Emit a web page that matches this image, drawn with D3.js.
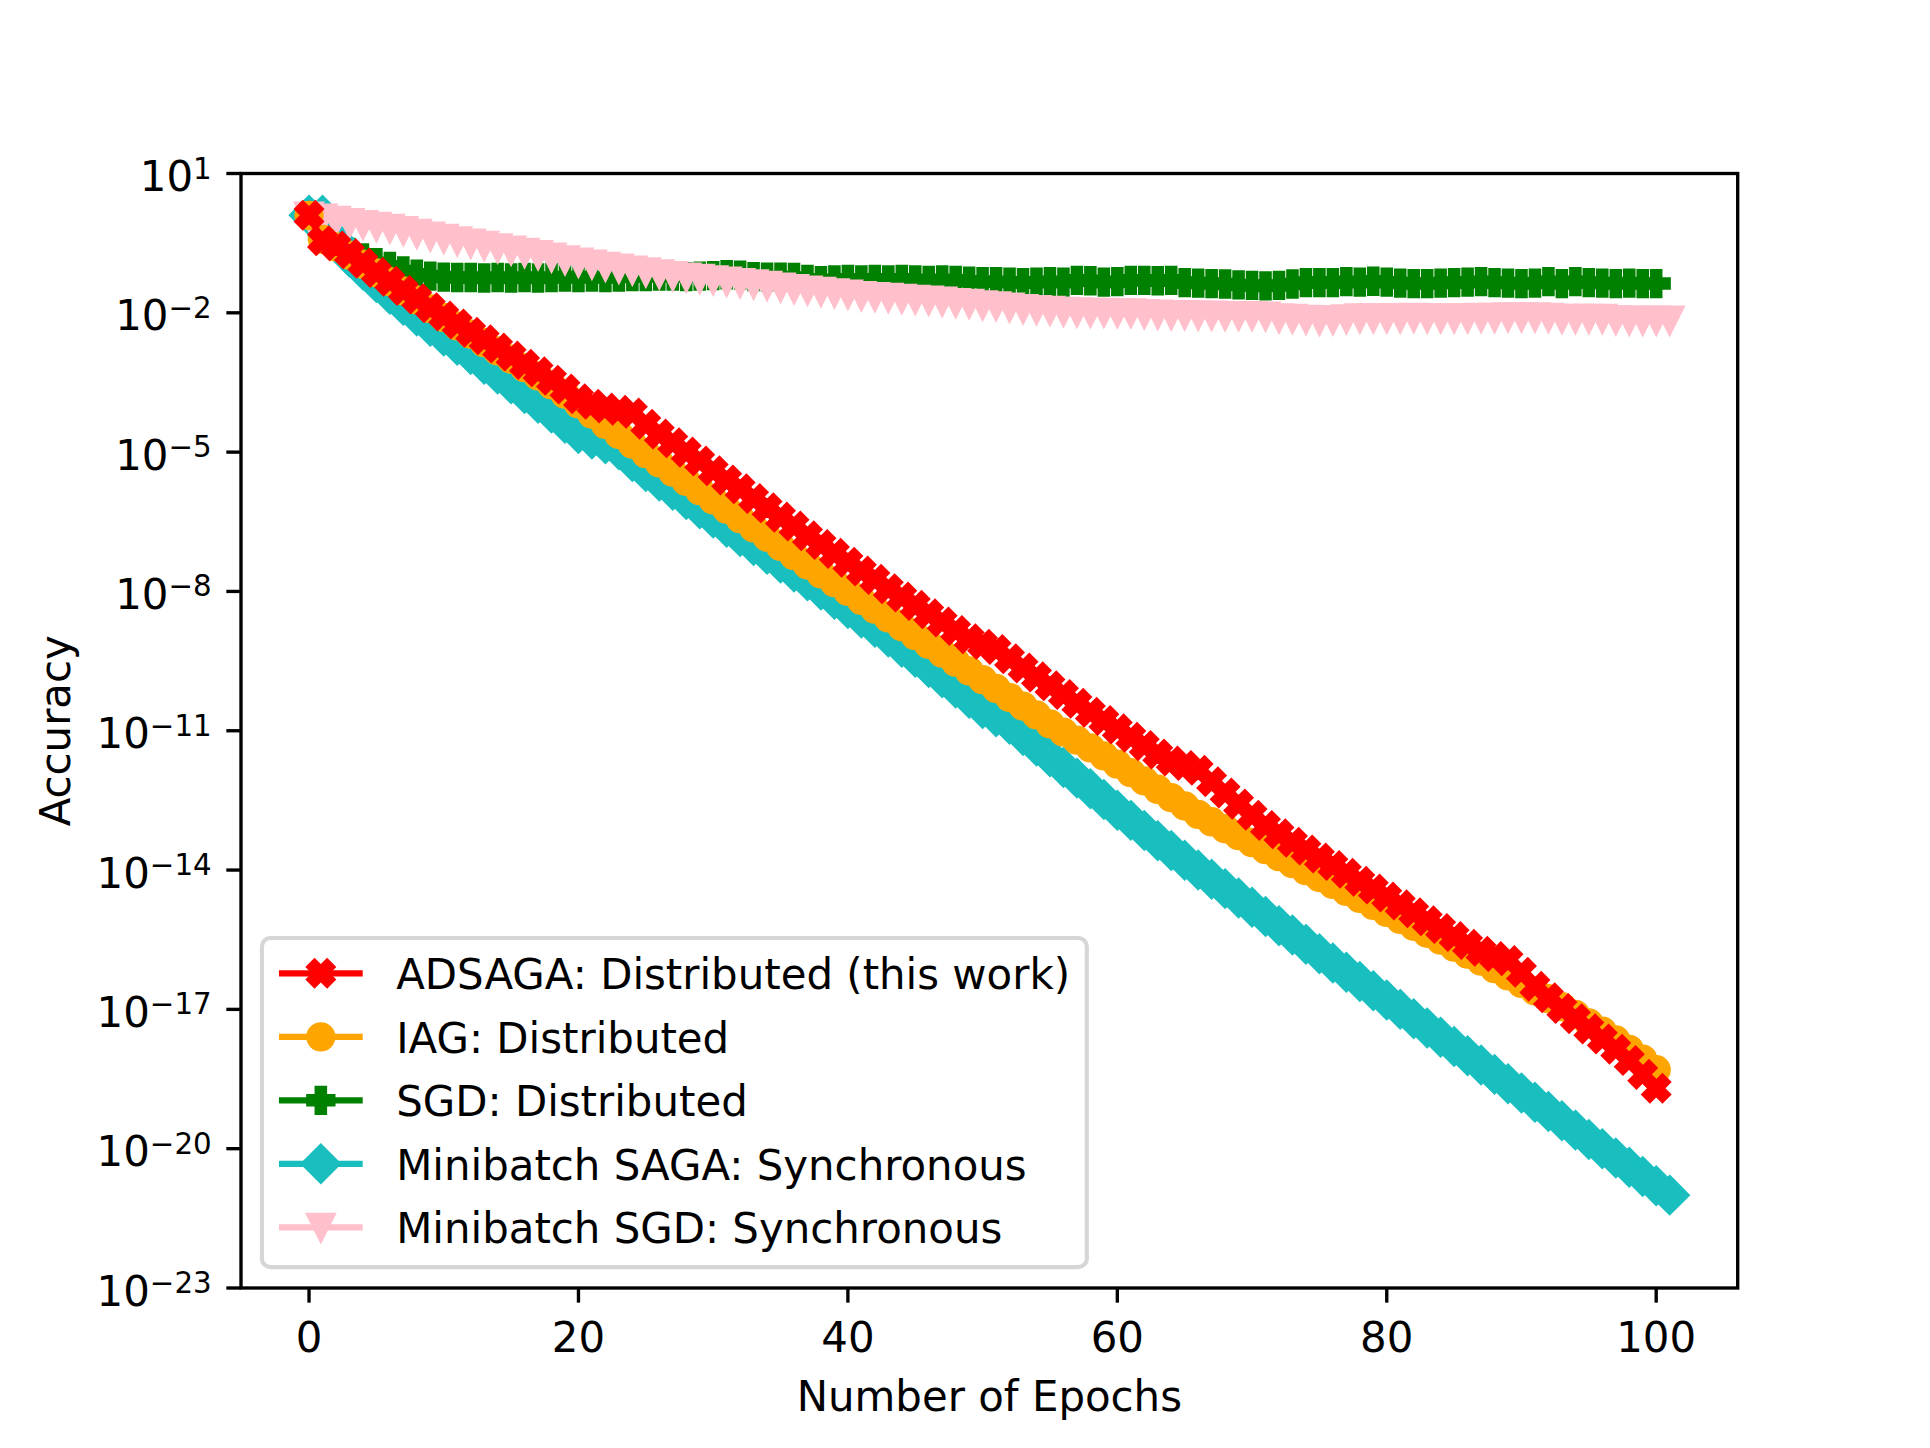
<!DOCTYPE html>
<html>
<head>
<meta charset="utf-8">
<script src="https://cdn.jsdelivr.net/npm/d3@7"></script>
<style>
  body { margin: 0; background: #fff; }
  svg { display: block; }
</style>
</head>
<body>
<svg id="chart"></svg>
<script>
// values, stored as log10(accuracy), one per epoch (starting at 0)
const adsagaLog = [
  0.10, -0.45, -0.56, -0.73, -0.93, -1.13, -1.32, -1.52, -1.70, -1.89,
  -2.07, -2.24, -2.42, -2.58, -2.76, -2.93, -3.11, -3.27, -3.45, -3.64,
  -3.85, -3.97, -4.05, -4.10, -4.16, -4.40, -4.61, -4.80, -5.00, -5.19,
  -5.40, -5.60, -5.79, -6.00, -6.20, -6.40, -6.59, -6.80, -6.99, -7.18,
  -7.37, -7.56, -7.74, -7.94, -8.12, -8.30, -8.48, -8.66, -8.84, -9.02,
  -9.14, -9.25, -9.45, -9.65, -9.84, -10.03, -10.22, -10.41, -10.60, -10.78,
  -10.96, -11.14, -11.32, -11.50, -11.65, -11.75, -11.85, -12.10, -12.34, -12.58,
  -12.82, -13.04, -13.22, -13.40, -13.57, -13.74, -13.90, -14.07, -14.24, -14.41,
  -14.58, -14.75, -14.92, -15.09, -15.26, -15.43, -15.60, -15.75, -15.86, -15.95,
  -16.20, -16.50, -16.75, -16.98, -17.20, -17.42, -17.64, -17.86, -18.10, -18.40,
  -18.70
];
const iagLog = [
  0.10, -0.42, -0.58, -0.76, -0.95, -1.14, -1.33, -1.53, -1.72, -1.91,
  -2.10, -2.28, -2.46, -2.64, -2.82, -3.00, -3.18, -3.36, -3.55, -3.75,
  -3.96, -4.18, -4.40, -4.62, -4.83, -5.03, -5.23, -5.43, -5.63, -5.83,
  -6.03, -6.23, -6.43, -6.63, -6.83, -7.03, -7.23, -7.43, -7.62, -7.81,
  -8.00, -8.19, -8.38, -8.57, -8.76, -8.95, -9.14, -9.33, -9.52, -9.71,
  -9.90, -10.09, -10.28, -10.47, -10.66, -10.85, -11.03, -11.20, -11.37, -11.54,
  -11.72, -11.90, -12.08, -12.26, -12.44, -12.62, -12.80, -12.96, -13.11, -13.26,
  -13.41, -13.56, -13.71, -13.86, -14.01, -14.16, -14.31, -14.46, -14.61, -14.76,
  -14.91, -15.06, -15.21, -15.36, -15.51, -15.66, -15.81, -15.96, -16.12, -16.28,
  -16.44, -16.60, -16.77, -16.94, -17.11, -17.29, -17.47, -17.66, -17.86, -18.07,
  -18.30
];
const sgdLog = [
  0.10, -0.30, -0.52, -0.70, -0.82, -0.92, -1.00, -1.10, -1.17, -1.21,
  -1.23, -1.24, -1.24, -1.25, -1.24, -1.25, -1.24, -1.25, -1.24, -1.23,
  -1.24, -1.23, -1.24, -1.23, -1.22, -1.22, -1.21, -1.21, -1.22, -1.21,
  -1.20, -1.18, -1.19, -1.22, -1.23, -1.23, -1.24, -1.28, -1.31, -1.29,
  -1.28, -1.29, -1.28, -1.29, -1.28, -1.29, -1.30, -1.29, -1.30, -1.32,
  -1.33, -1.33, -1.34, -1.35, -1.34, -1.33, -1.34, -1.30, -1.31, -1.34,
  -1.33, -1.30, -1.30, -1.31, -1.30, -1.35, -1.36, -1.37, -1.38, -1.40,
  -1.41, -1.42, -1.41, -1.38, -1.35, -1.35, -1.35, -1.33, -1.34, -1.32,
  -1.34, -1.36, -1.37, -1.37, -1.36, -1.35, -1.34, -1.33, -1.35, -1.36,
  -1.37, -1.36, -1.33, -1.37, -1.33, -1.35, -1.36, -1.37, -1.36, -1.37,
  -1.37
];
const mbSagaLog = [
  0.10, 0.10, -0.45, -0.80, -1.08, -1.35, -1.60, -1.84, -2.07, -2.29,
  -2.50, -2.70, -2.90, -3.11, -3.32, -3.53, -3.74, -3.95, -4.16, -4.38,
  -4.60, -4.72, -4.82, -4.95, -5.20, -5.42, -5.62, -5.82, -6.02, -6.22,
  -6.42, -6.62, -6.82, -7.01, -7.20, -7.39, -7.58, -7.77, -7.97, -8.17,
  -8.37, -8.57, -8.77, -8.98, -9.20, -9.42, -9.64, -9.86, -10.08, -10.30,
  -10.52, -10.70, -10.86, -11.10, -11.33, -11.56, -11.79, -12.02, -12.25, -12.48,
  -12.71, -12.93, -13.15, -13.37, -13.58, -13.79, -14.00, -14.20, -14.40, -14.60,
  -14.80, -15.00, -15.20, -15.40, -15.60, -15.80, -16.00, -16.20, -16.40, -16.60,
  -16.80, -17.00, -17.20, -17.40, -17.60, -17.80, -18.00, -18.20, -18.40, -18.60,
  -18.80, -19.00, -19.20, -19.40, -19.60, -19.80, -20.00, -20.20, -20.40, -20.60,
  -20.80, -21.00
];
const mbSgdLog = [
  0.08, 0.04, -0.01, -0.06, -0.10, -0.14, -0.18, -0.23, -0.29, -0.35,
  -0.40, -0.45, -0.50, -0.55, -0.60, -0.65, -0.70, -0.75, -0.80, -0.86,
  -0.91, -0.95, -1.00, -1.04, -1.08, -1.12, -1.16, -1.20, -1.23, -1.26,
  -1.29, -1.32, -1.35, -1.38, -1.41, -1.45, -1.48, -1.51, -1.54, -1.57,
  -1.60, -1.63, -1.65, -1.67, -1.69, -1.71, -1.73, -1.75, -1.78, -1.80,
  -1.83, -1.85, -1.88, -1.91, -1.93, -1.95, -1.97, -1.98, -1.99, -1.99,
  -2.00, -2.00, -2.02, -2.03, -2.04, -2.04, -2.05, -2.05, -2.06, -2.06,
  -2.06, -2.07, -2.11, -2.12, -2.14, -2.16, -2.15, -2.13, -2.11, -2.11,
  -2.11, -2.11, -2.10, -2.11, -2.11, -2.11, -2.11, -2.10, -2.10, -2.09,
  -2.09, -2.09, -2.10, -2.12, -2.12, -2.12, -2.12, -2.15, -2.16, -2.16,
  -2.16, -2.16
];

const seriesLabels = [
  "ADSAGA: Distributed (this work)",
  "IAG: Distributed",
  "SGD: Distributed",
  "Minibatch SAGA: Synchronous",
  "Minibatch SGD: Synchronous"
];
const xTicks = [0, 20, 40, 60, 80, 100];
const yTickExponents = [1, -2, -5, -8, -11, -14, -17, -20, -23];
const xLabel = "Number of Epochs";
const yLabel = "Accuracy";

// ---- layout (matplotlib default figure, scaled) ----
const W = 1930, H = 1448;
const pt = W / (6.4 * 72);           // px per point
const fs = 10 * pt;                   // 10pt font
const font = "'DejaVu Sans', sans-serif";
const axL = 241, axR = 1737.7, axT = 173.5, axB = 1288;

const svg = d3.select("#chart").attr("width", W).attr("height", H);
svg.append("rect").attr("width", W).attr("height", H).attr("fill", "#fff");

const x = d3.scaleLinear().domain([-5.05, 106.05]).range([axL, axR]);
const y = d3.scaleLog().domain([1e-23, 1e1]).range([axB, axT]);

// custom matplotlib-like marker shapes for d3.symbol
const mTriDown = { draw(ctx, size) { const h = Math.sqrt(size) / 2;
  ctx.moveTo(-h, -h); ctx.lineTo(h, -h); ctx.lineTo(0, h); ctx.closePath(); } };
const mDiamond = { draw(ctx, size) { const h = Math.sqrt(size) * Math.SQRT1_2;
  ctx.moveTo(0, -h); ctx.lineTo(h, 0); ctx.lineTo(0, h); ctx.lineTo(-h, 0); ctx.closePath(); } };

const ms = 6 * pt; // marker size
const markers = {
  X: { type: d3.symbolCross, size: 5 * Math.pow(ms * 1.06, 2) / 9, rotate: 45, join: "miter" },
  o: { type: d3.symbolCircle, size: Math.PI * Math.pow(ms / 2, 2), rotate: 0, join: "round" },
  P: { type: d3.symbolCross, size: 5 * ms * ms / 9, rotate: 0, join: "miter" },
  D: { type: mDiamond, size: ms * ms, rotate: 0, join: "miter" },
  v: { type: mTriDown, size: ms * ms, rotate: 0, join: "miter" }
};

const series = [
  { label: seriesLabels[0], values: adsagaLog, color: "#ff0000", marker: "X", z: 4 },
  { label: seriesLabels[1], values: iagLog, color: "#ffa500", marker: "o", z: 3 },
  { label: seriesLabels[2], values: sgdLog, color: "#008000", marker: "P", z: 0 },
  { label: seriesLabels[3], values: mbSagaLog, color: "#19bfbf", marker: "D", z: 1 },
  { label: seriesLabels[4], values: mbSgdLog, color: "#ffc0cb", marker: "v", z: 2 }
];

svg.append("defs").append("clipPath").attr("id", "axclip")
  .append("rect").attr("x", axL).attr("y", axT).attr("width", axR - axL).attr("height", axB - axT);

const plot = svg.append("g").attr("clip-path", "url(#axclip)");
const line = d3.line().x((d, i) => x(i)).y(d => y(Math.pow(10, d)));

function symbolPath(m) {
  return d3.symbol().type(markers[m].type).size(markers[m].size)();
}

series.slice().sort((a, b) => a.z - b.z).forEach(s => {
  const g = plot.append("g");
  g.append("path")
    .attr("d", line(s.values))
    .attr("fill", "none")
    .attr("stroke", s.color)
    .attr("stroke-width", 1.5 * pt)
    .attr("stroke-linejoin", "round");
  const mk = markers[s.marker];
  g.selectAll("path.mk")
    .data(s.values)
    .enter()
    .append("path")
    .attr("class", "mk")
    .attr("d", symbolPath(s.marker))
    .attr("transform", (d, i) => `translate(${x(i)},${y(Math.pow(10, d))}) rotate(${mk.rotate})`)
    .attr("fill", s.color)
    .attr("stroke", s.color)
    .attr("stroke-width", pt)
    .attr("stroke-linejoin", mk.join);
});

// ---- spines ----
svg.append("rect")
  .attr("x", axL).attr("y", axT)
  .attr("width", axR - axL).attr("height", axB - axT)
  .attr("fill", "none").attr("stroke", "#000").attr("stroke-width", 0.8 * pt);

// ---- x axis ----
const tickLen = 3.5 * pt;
const xg = svg.append("g");
xg.selectAll("line").data(xTicks).enter().append("line")
  .attr("x1", d => x(d)).attr("x2", d => x(d))
  .attr("y1", axB).attr("y2", axB + tickLen)
  .attr("stroke", "#000").attr("stroke-width", 0.8 * pt);
xg.selectAll("text").data(xTicks).enter().append("text")
  .attr("x", d => x(d)).attr("y", 1352)
  .attr("text-anchor", "middle")
  .attr("font-family", font).attr("font-size", fs)
  .text(d => d);

svg.append("text")
  .attr("x", (axL + axR) / 2).attr("y", 1411)
  .attr("text-anchor", "middle")
  .attr("font-family", font).attr("font-size", fs)
  .text(xLabel);

// ---- y axis ----
const yg = svg.append("g");
yg.selectAll("line").data(yTickExponents).enter().append("line")
  .attr("x1", axL - tickLen).attr("x2", axL)
  .attr("y1", d => y(Math.pow(10, d))).attr("y2", d => y(Math.pow(10, d)))
  .attr("stroke", "#000").attr("stroke-width", 0.8 * pt);
const yl = yg.selectAll("text").data(yTickExponents).enter().append("text")
  .attr("x", axL - tickLen - 3.5 * pt).attr("y", d => y(Math.pow(10, d)) + 17.5)
  .attr("text-anchor", "end")
  .attr("font-family", font).attr("font-size", fs);
yl.append("tspan").text("10");
yl.append("tspan")
  .attr("dy", -12.5)
  .attr("font-size", fs * 0.7)
  .text(d => (d < 0 ? "\u2212" + Math.abs(d) : String(d)));

svg.append("text")
  .attr("transform", `translate(70,${(axT + axB) / 2}) rotate(-90)`)
  .attr("text-anchor", "middle")
  .attr("font-family", font).attr("font-size", fs)
  .text(yLabel);

// ---- legend (lower left) ----
const lgX = axL + 0.5 * fs, lgBottom = axB - 0.5 * fs;
const rowGap = 63.5, firstRow = 973.3, lgTop = 938;
const handleX0 = lgX + 17, handleX1 = handleX0 + 2 * fs, textX = handleX1 + 0.8 * fs;
const lg = svg.append("g");
const frame = lg.append("rect")
  .attr("x", lgX).attr("y", lgTop)
  .attr("height", lgBottom - lgTop)
  .attr("rx", 0.2 * fs).attr("ry", 0.2 * fs)
  .attr("fill", "#fff").attr("fill-opacity", 0.8)
  .attr("stroke", "#cccccc").attr("stroke-opacity", 0.8).attr("stroke-width", pt);

let maxW = 0;
series.forEach((s, i) => {
  const cy = firstRow + i * rowGap;
  lg.append("line")
    .attr("x1", handleX0).attr("x2", handleX1)
    .attr("y1", cy).attr("y2", cy)
    .attr("stroke", s.color).attr("stroke-width", 1.5 * pt);
  lg.append("path")
    .attr("d", symbolPath(s.marker))
    .attr("transform", `translate(${(handleX0 + handleX1) / 2},${cy}) rotate(${markers[s.marker].rotate})`)
    .attr("fill", s.color).attr("stroke", s.color)
    .attr("stroke-width", pt).attr("stroke-linejoin", markers[s.marker].join);
  const t = lg.append("text")
    .attr("x", textX).attr("y", cy + 16)
    .attr("font-family", font).attr("font-size", fs)
    .text(s.label);
  maxW = Math.max(maxW, t.node().getComputedTextLength());
});
frame.attr("width", textX + maxW + 0.4 * fs - lgX);
</script>
</body>
</html>
